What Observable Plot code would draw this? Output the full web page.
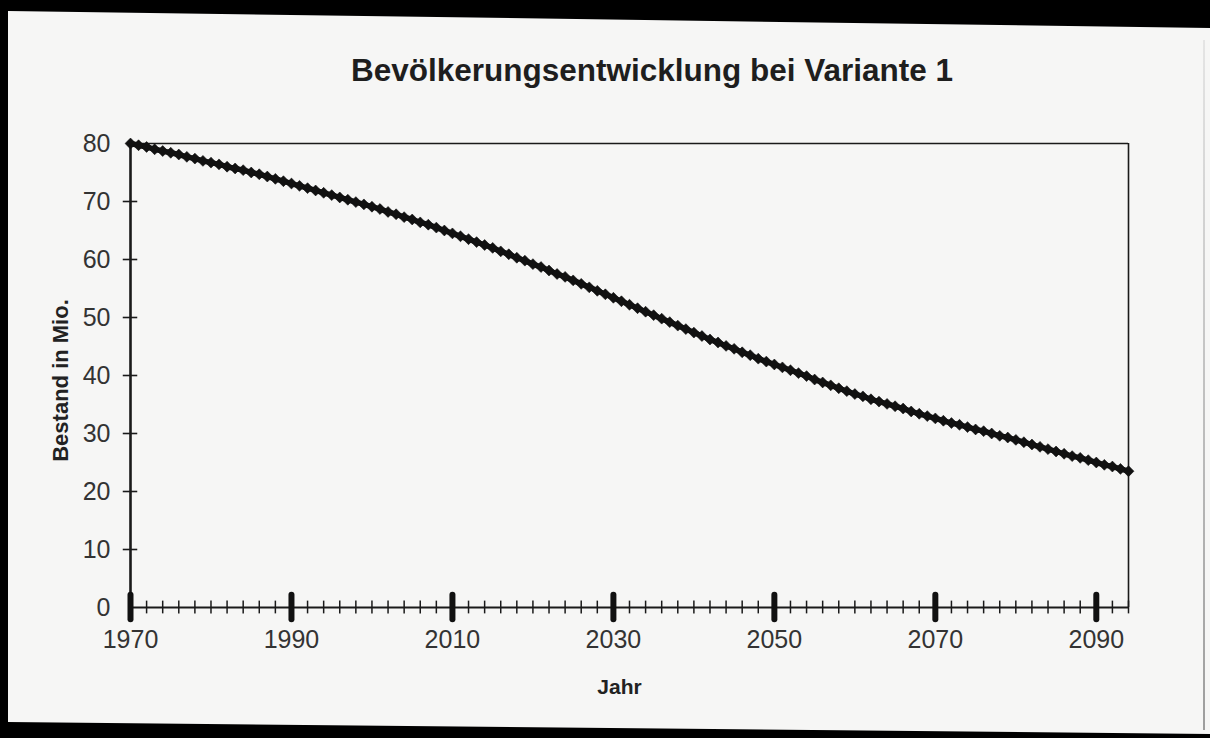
<!DOCTYPE html>
<html>
<head>
<meta charset="utf-8">
<script src="https://cdn.jsdelivr.net/npm/d3@7"></script>
<script src="https://cdn.jsdelivr.net/npm/@observablehq/plot@0.6"></script>
<style>
  html, body { margin: 0; padding: 0; width: 1210px; height: 738px; overflow: hidden; background: #000; }
  #paper { position: absolute; left: 0; top: 0; width: 1210px; height: 738px; background: #f6f6f5;
    clip-path: polygon(8px 11px, 1210px 28px, 1210px 734px, 8px 722px); }
  #edge { position: absolute; left: 1203px; top: 40px; width: 2px; height: 690px; background: linear-gradient(#ddd, #777); opacity: 0.7; }
  #title { position: absolute; left: 652px; top: 52px; transform: translateX(-50%); white-space: nowrap;
    font-family: "Liberation Sans", Arial, sans-serif; font-weight: bold; font-size: 31.5px; color: #1e1e1e; }
  #chart { position: absolute; left: 0; top: 0; }
  #chart svg { background: transparent; }
</style>
</head>
<body>
<div id="paper"></div>
<div id="edge"></div>
<div id="title">Bevölkerungsentwicklung bei Variante 1</div>
<div id="chart"></div>
<script>
const years = [];
for (let y = 1970; y <= 2094; y++) years.push(y);
const population = [
  80.0, 79.7, 79.4, 79.0, 78.7, 78.4, 78.1, 77.7, 77.4, 77.0,
  76.7, 76.4, 76.0, 75.7, 75.4, 75.0, 74.7, 74.3, 73.9, 73.5,
  73.1, 72.7, 72.3, 71.9, 71.5, 71.1, 70.7, 70.3, 69.9, 69.5,
  69.1, 68.7, 68.2, 67.8, 67.3, 66.9, 66.4, 66.0, 65.5, 65.0,
  64.5, 64.0, 63.5, 63.0, 62.5, 62.0, 61.4, 60.9, 60.3, 59.8,
  59.2, 58.7, 58.1, 57.5, 57.0, 56.4, 55.8, 55.2, 54.6, 54.0,
  53.4, 52.8, 52.2, 51.6, 51.0, 50.4, 49.8, 49.2, 48.6, 48.0,
  47.4, 46.8, 46.2, 45.7, 45.1, 44.6, 44.0, 43.5, 42.9, 42.4,
  41.9, 41.4, 40.9, 40.4, 39.9, 39.3, 38.8, 38.3, 37.8, 37.3,
  36.8, 36.4, 35.9, 35.5, 35.1, 34.7, 34.3, 33.8, 33.4, 33.0,
  32.6, 32.2, 31.8, 31.5, 31.1, 30.7, 30.4, 30.0, 29.6, 29.3,
  28.9, 28.5, 28.1, 27.7, 27.3, 26.9, 26.5, 26.1, 25.8, 25.4,
  25.0, 24.6, 24.3, 23.9, 23.5
];
const xTickLabels = [1970, 1990, 2010, 2030, 2050, 2070, 2090];
const xMinorTicks = [];
for (let y = 1972; y <= 2094; y += 2) xMinorTicks.push(y);
const yTicks = [0, 10, 20, 30, 40, 50, 60, 70, 80];
const yInnerTicks = [10, 20, 30, 40, 50, 60, 70];
const xDomain = [1970, 2094];
const yDomain = [0, 80];
const xLabel = "Jahr";
const yLabel = "Bestand in Mio.";

const data = years.map((year, i) => ({ year, value: population[i] }));

const ink = "#1a1a1a";
const chart = Plot.plot({
  width: 1210,
  height: 738,
  marginLeft: 130,
  marginRight: 82,
  marginTop: 143,
  marginBottom: 131,
  style: { background: "transparent", fontFamily: "Liberation Sans, Arial, sans-serif", color: "#333", fontSize: "25px" },
  x: { domain: xDomain },
  y: { domain: yDomain },
  marks: [
    Plot.axisX({ ticks: xTickLabels, tickFormat: d => String(d), tickSize: 0, tickPadding: 23, fontSize: 25, label: null }),
    Plot.axisY({ ticks: yTicks, tickSize: 0, tickPadding: 20, fontSize: 25, label: null }),
    Plot.ruleY([80], { stroke: ink, strokeWidth: 1.6 }),
    Plot.ruleX([2094], { stroke: ink, strokeWidth: 1.6 }),
    Plot.ruleX([1970], { stroke: ink, strokeWidth: 2.6 }),
    Plot.ruleY([0], { stroke: ink, strokeWidth: 2.2 }),
    Plot.ruleY(yInnerTicks, { x1: 1969.1, x2: 1970.9, stroke: ink, strokeWidth: 1.6 }),
    Plot.ruleX(xMinorTicks, { y1: -1.1, y2: 1.1, stroke: ink, strokeWidth: 1.5 }),
    Plot.ruleX(xTickLabels, { y1: -2.1, y2: 2.1, stroke: "#111", strokeWidth: 6, strokeLinecap: "round" }),
    Plot.line(data, { x: "year", y: "value", stroke: "#111", strokeWidth: 5.5 }),
    Plot.dot(data, { x: "year", y: "value", symbol: "diamond2", r: 4.9, fill: "#111", stroke: "#111", strokeWidth: 0.6 }),
    Plot.text([xLabel], { frameAnchor: "bottom", dx: -10, dy: 86, text: d => d, fontSize: 21, fontWeight: "bold", fill: "#222" }),
    Plot.text([yLabel], { frameAnchor: "left", textAnchor: "middle", dx: -70, dy: 5, rotate: -90, text: d => d, fontSize: 22, fontWeight: "bold", fill: "#222" })
  ]
});
document.getElementById("chart").appendChild(chart);
</script>
</body>
</html>
